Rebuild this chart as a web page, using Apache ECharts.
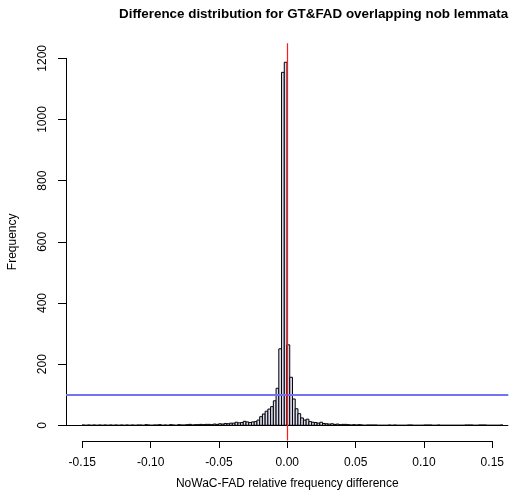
<!DOCTYPE html>
<html>
<head>
<meta charset="utf-8">
<script src="https://cdn.jsdelivr.net/npm/echarts@6/dist/echarts.min.js"></script>
<style>
html,body{margin:0;padding:0;background:#fff;}
#chart{width:512px;height:501px;}
</style>
</head>
<body>
<div id="chart"></div>
<script>
// ---- data ----
const titleText = 'Difference distribution for GT&FAD overlapping nob lemmata';
const xLabel = 'NoWaC-FAD relative frequency difference';
const yLabel = 'Frequency';
const binWidth = 0.002;
const firstBin = -0.15;
// counts for bins from -0.150 up to 0.000 (75 bins)
const leftCounts = [
  1,0,1,0,1,0,1,0,1,0,1,0,1,0,1,0,1,0,1,0,
  1,1,0,2,1,0,1,1,2,0,1,0,2,1,0,2,1,1,2,3,
  1,2,2,3,2,3,3,2,4,3,5,4,6,5,7,
  7,10,8,9,13,11,9,11,12,17,28,37,46,53,61,80,121,250,1154
];
// counts for bins from 0.000 up to 0.160 (80 bins)
const rightCounts = [
  1187,263,157,86,54,38,24,17,20,12,10,9,7,10,6,5,4,5,3,4,
  2,3,3,2,1,2,1,2,1,0,1,1,1,1,0,0,0,0,1,0,
  1,0,0,0,0,1,1,0,0,0,0,1,1,1,0,0,1,0,0,0,
  0,0,0,0,0,0,1,1,1,0,0,1,1,1,0,0,0,0,0,1
];
const xTickLabels = ['-0.15','-0.10','-0.05','0.00','0.05','0.10','0.15'];
const yTickLabels = ['0','200','400','600','800','1000','1200'];
const vLineAt = 0;
const hLineAt = 100;
const baseLineAt = 0;

const counts = leftCounts.concat(rightCounts);
const histData = counts.map((c, i) => [firstBin + i * binWidth, firstBin + (i + 1) * binWidth, c]);

const FONT = 'Liberation Sans, Arial, Helvetica, sans-serif';
const chart = echarts.init(document.getElementById('chart'), null, {renderer: 'canvas'});

const option = {
  animation: false,
  backgroundColor: '#ffffff',
  title: {
    text: titleText,
    left: 114,
    top: 3,
    textStyle: {fontFamily: FONT, fontWeight: 'bold', fontSize: 13.4, color: '#000'}
  },
  grid: [
    {left: 66, right: 3.7, top: 43.3, bottom: 60.6},
    {left: 82.3, width: 410, top: 440, height: 1},
    {left: 66, width: 1, top: 58.3, height: 367}
  ],
  xAxis: [
    {gridIndex: 0, type: 'value', min: -0.1617, max: 0.1619, show: false},
    {gridIndex: 1, type: 'value', min: -0.15, max: 0.15, interval: 0.05,
      axisLine: {show: true, lineStyle: {color: '#000', width: 1}},
      axisTick: {show: true, length: 7, lineStyle: {color: '#000'}},
      axisLabel: {margin: 16, color: '#000', fontFamily: FONT, fontSize: 12,
        formatter: (v, i) => xTickLabels[i]},
      splitLine: {show: false},
      name: xLabel, nameLocation: 'middle', nameGap: 37,
      nameTextStyle: {fontFamily: FONT, fontSize: 12, color: '#000'}
    },
    {gridIndex: 2, type: 'value', show: false}
  ],
  yAxis: [
    {gridIndex: 0, type: 'value', min: -49.4, max: 1249, show: false},
    {gridIndex: 1, type: 'value', show: false},
    {gridIndex: 2, type: 'value', min: 0, max: 1200, interval: 200,
      axisLine: {show: true, lineStyle: {color: '#000', width: 1}},
      axisTick: {show: true, length: 8, lineStyle: {color: '#000'}},
      axisLabel: {margin: 17, rotate: 90, color: '#000', fontFamily: FONT, fontSize: 12,
        formatter: (v, i) => yTickLabels[i]},
      splitLine: {show: false},
      name: yLabel, nameLocation: 'middle', nameGap: 47, nameRotate: 90,
      nameTextStyle: {fontFamily: FONT, fontSize: 12, color: '#000'}
    }
  ],
  series: [{
    type: 'custom',
    xAxisIndex: 0, yAxisIndex: 0,
    clip: true,
    z: 2,
    data: histData,
    renderItem: function (params, api) {
      const x0 = api.value(0), x1 = api.value(1), c = api.value(2);
      const p0 = api.coord([x0, c]);
      const p1 = api.coord([x1, 0]);
      return {
        type: 'rect',
        shape: {x: p0[0], y: p0[1], width: p1[0] - p0[0], height: p1[1] - p0[1]},
        style: {fill: '#dcdcf2', stroke: '#000', lineWidth: 1}
      };
    },
    markLine: {
      silent: true, symbol: 'none', label: {show: false}, animation: false, z: 10,
      data: [
        {yAxis: baseLineAt, lineStyle: {color: '#000', width: 1, type: 'solid'}},
        {yAxis: hLineAt, lineStyle: {color: '#7474f2', width: 2, type: 'solid'}},
        {xAxis: vLineAt, lineStyle: {color: '#ff1a1a', width: 1.2, type: 'solid'}}
      ]
    }
  }]
};
chart.setOption(option);
</script>
</body>
</html>
